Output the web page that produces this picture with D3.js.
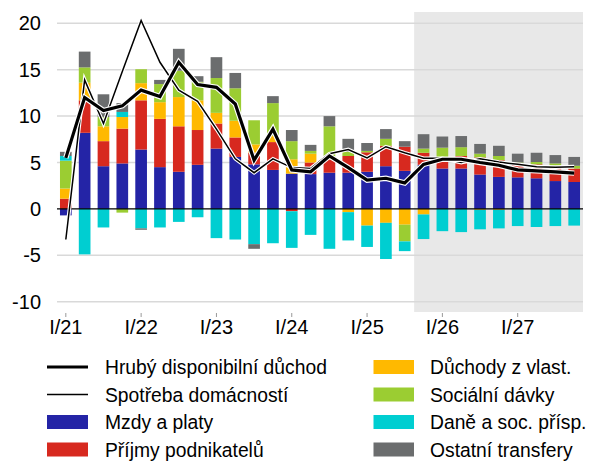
<!DOCTYPE html>
<html><head><meta charset="utf-8">
<script src="https://cdn.jsdelivr.net/npm/d3@7"></script>
<style>
html,body{margin:0;padding:0;background:#fff;}
text{font-family:"Liberation Sans",Arial,sans-serif;fill:#000;}
</style></head>
<body>
<svg id="c" width="590" height="461"></svg>
<script>
const quarters = ["I/21","II/21","III/21","IV/21","I/22","II/22","III/22","IV/22","I/23","II/23","III/23","IV/23","I/24","II/24","III/24","IV/24","I/25","II/25","III/25","IV/25","I/26","II/26","III/26","IV/26","I/27","II/27","III/27","IV/27"];
const tickLabels = ["I/21","I/22","I/23","I/24","I/25","I/26","I/27"];
const forecastStart = "IV/25";
const yTicks = [-10,-5,0,5,10,15,20];

const seriesNames = ["Mzdy a platy","Příjmy podnikatelů","Důchody z vlast.","Sociální dávky","Daně a soc. přísp.","Ostatní transfery"];
const seriesColors = ["#2424a6","#d7291f","#ffb900","#9bcd32","#00ced1","#6b6d6e"];

const mzdy      = [-0.7,8.2,4.6,4.9,6.4,4.5,4.0,4.75,6.5,5.6,4.8,4.2,3.8,3.75,3.9,3.9,4.0,4.6,4.1,4.75,4.35,4.35,3.7,3.45,3.4,3.3,3.0,2.9];
const prijmy    = [1.1,3.5,2.7,3.75,5.3,5.2,4.9,3.75,2.7,2.1,1.25,3.0,-0.25,1.25,1.45,1.8,2.1,2.2,2.6,1.3,1.15,1.35,1.85,1.8,1.35,1.5,1.55,1.45];
const duchody   = [1.1,1.9,1.6,1.25,1.85,1.8,3.15,3.2,1.15,1.8,0.9,0.65,1.55,0.95,0,-0.35,-1.8,-1.5,-1.7,-0.6,0,0,-0.1,-0.1,0,0,0,0];
const davky     = [3.0,1.65,1.0,-0.4,1.5,1.95,2.85,2.0,3.75,3.5,2.6,3.55,1.95,0.3,3.55,0.45,0.15,0.75,-1.8,0.45,1.1,0.95,0.4,0.45,0.25,0.25,0.35,0.3];
const dane      = [0.5,-4.9,-2.0,0.55,-2.1,-2.0,-1.4,-0.9,-3.15,-3.3,-3.8,-3.7,-3.95,-2.8,-4.3,-3.05,-2.3,-3.9,-1.05,-2.65,-2.4,-2.5,-2.1,-2.0,-1.85,-1.95,-1.85,-1.8];
const ostatni   = [0.45,1.7,2.45,0.95,-0.15,0.45,2.35,0.6,2.25,1.65,-0.5,0.75,1.2,0.65,1.1,1.4,0.85,1.05,0.6,1.55,1.2,1.2,1.05,1.1,0.95,1.0,0.9,0.95];

const hdd       = [5.5,12.0,10.6,11.1,12.8,12.1,15.8,13.4,13.1,11.3,5.25,8.6,4.2,4.0,5.7,4.45,3.1,3.3,2.8,4.8,5.35,5.35,5.0,4.7,4.2,4.1,4.0,3.85];
const spotreba  = [-3.3,13.9,9.2,14.8,20.3,15.8,12.8,11.6,8.6,5.4,3.9,5.4,4.45,4.35,5.95,6.4,5.5,6.7,6.05,5.45,5.45,5.0,5.4,5.05,4.8,4.55,4.5,4.55];

const lineNames = ["Hrubý disponibilní důchod","Spotřeba domácností"];

const seriesValues = [mzdy,prijmy,duchody,davky,dane,ostatni];
const table = quarters.map((q,i)=>{
  const o={q};
  seriesNames.forEach((n,k)=>o[n]=seriesValues[k][i]);
  return o;
});

const svg = d3.select("#c");
const x = d3.scaleBand().domain(quarters).range([56.4,583.6]).paddingInner(0.38).paddingOuter(0.19);
const y = d3.scaleLinear().domain([-10,20]).range([301.7,23.3]);
const step = x.step();
const halfGap = (step - x.bandwidth())/2;

// forecast shading
const sx = x(forecastStart) - halfGap;
svg.append("rect").attr("x",sx).attr("y",12).attr("width",583-sx).attr("height",300).attr("fill","#e8e8e8");

// gridlines
svg.append("g").selectAll("line").data(yTicks.filter(v=>v!==0)).join("line")
  .attr("x1",57).attr("x2",583).attr("y1",d=>y(d)).attr("y2",d=>y(d))
  .attr("stroke","#d9d9d9").attr("stroke-width",1.5);

// y labels
svg.append("g").selectAll("text").data(yTicks).join("text")
  .attr("x",41).attr("y",d=>y(d)+7).attr("text-anchor","end")
  .attr("font-size",20).text(d=>d);

// stacked bars
const stack = d3.stack().keys(seriesNames).offset(d3.stackOffsetDiverging);
const stacked = stack(table);
svg.append("g").selectAll("g").data(stacked).join("g")
  .attr("fill",(d,i)=>seriesColors[i])
  .selectAll("rect").data(d=>d).join("rect")
  .attr("x",d=>x(d.data.q)).attr("width",x.bandwidth())
  .attr("y",d=>y(Math.max(d[0],d[1]))).attr("height",d=>Math.abs(y(d[0])-y(d[1])));

// zero line
svg.append("line").attr("x1",57).attr("x2",583).attr("y1",y(0)).attr("y2",y(0)).attr("stroke","#000").attr("stroke-width",1.3);

// x ticks and labels
const xt = svg.append("g");
xt.selectAll("line").data(tickLabels).join("line")
  .attr("x1",d=>x(d)+x.bandwidth()/2).attr("x2",d=>x(d)+x.bandwidth()/2)
  .attr("y1",313).attr("y2",317).attr("stroke","#999").attr("stroke-width",1);
xt.selectAll("text").data(tickLabels).join("text")
  .attr("x",d=>x(d)+x.bandwidth()/2).attr("y",334).attr("text-anchor","middle")
  .attr("font-size",20).text(d=>d);

// lines
const line = d3.line().x((d,i)=>x(quarters[i])+x.bandwidth()/2).y(d=>y(d));
function drawLine(data,w){
  svg.append("path").datum(data).attr("d",line).attr("fill","none").attr("stroke","#fff").attr("stroke-width",w+2.2).attr("stroke-linejoin","miter");
  svg.append("path").datum(data).attr("d",line).attr("fill","none").attr("stroke","#000").attr("stroke-width",w).attr("stroke-linejoin","miter");
}
drawLine(spotreba,1.5);
drawLine(hdd,3.2);

// legend
const rowY = [367,394.5,422,449.5];
const lg = svg.append("g");
lineNames.forEach((n,i)=>{
  lg.append("line").attr("x1",47).attr("x2",88).attr("y1",rowY[i]).attr("y2",rowY[i]).attr("stroke","#000").attr("stroke-width",i===0?3.2:1.6);
  lg.append("text").attr("x",105).attr("y",rowY[i]+7).attr("font-size",19.3).text(n);
});
seriesNames.forEach((n,i)=>{
  let cx, ry;
  if(i<2){cx=47; ry=rowY[i+2]; }
  else {cx=373.5; ry=rowY[i-2];}
  const tx = i<2?105:430;
  lg.append("rect").attr("x",cx).attr("y",ry-7).attr("width",i<2?41:40.5).attr("height",14).attr("fill",seriesColors[i]);
  lg.append("text").attr("x",tx).attr("y",ry+7).attr("font-size",19.3).text(n);
});
</script>
</body></html>
